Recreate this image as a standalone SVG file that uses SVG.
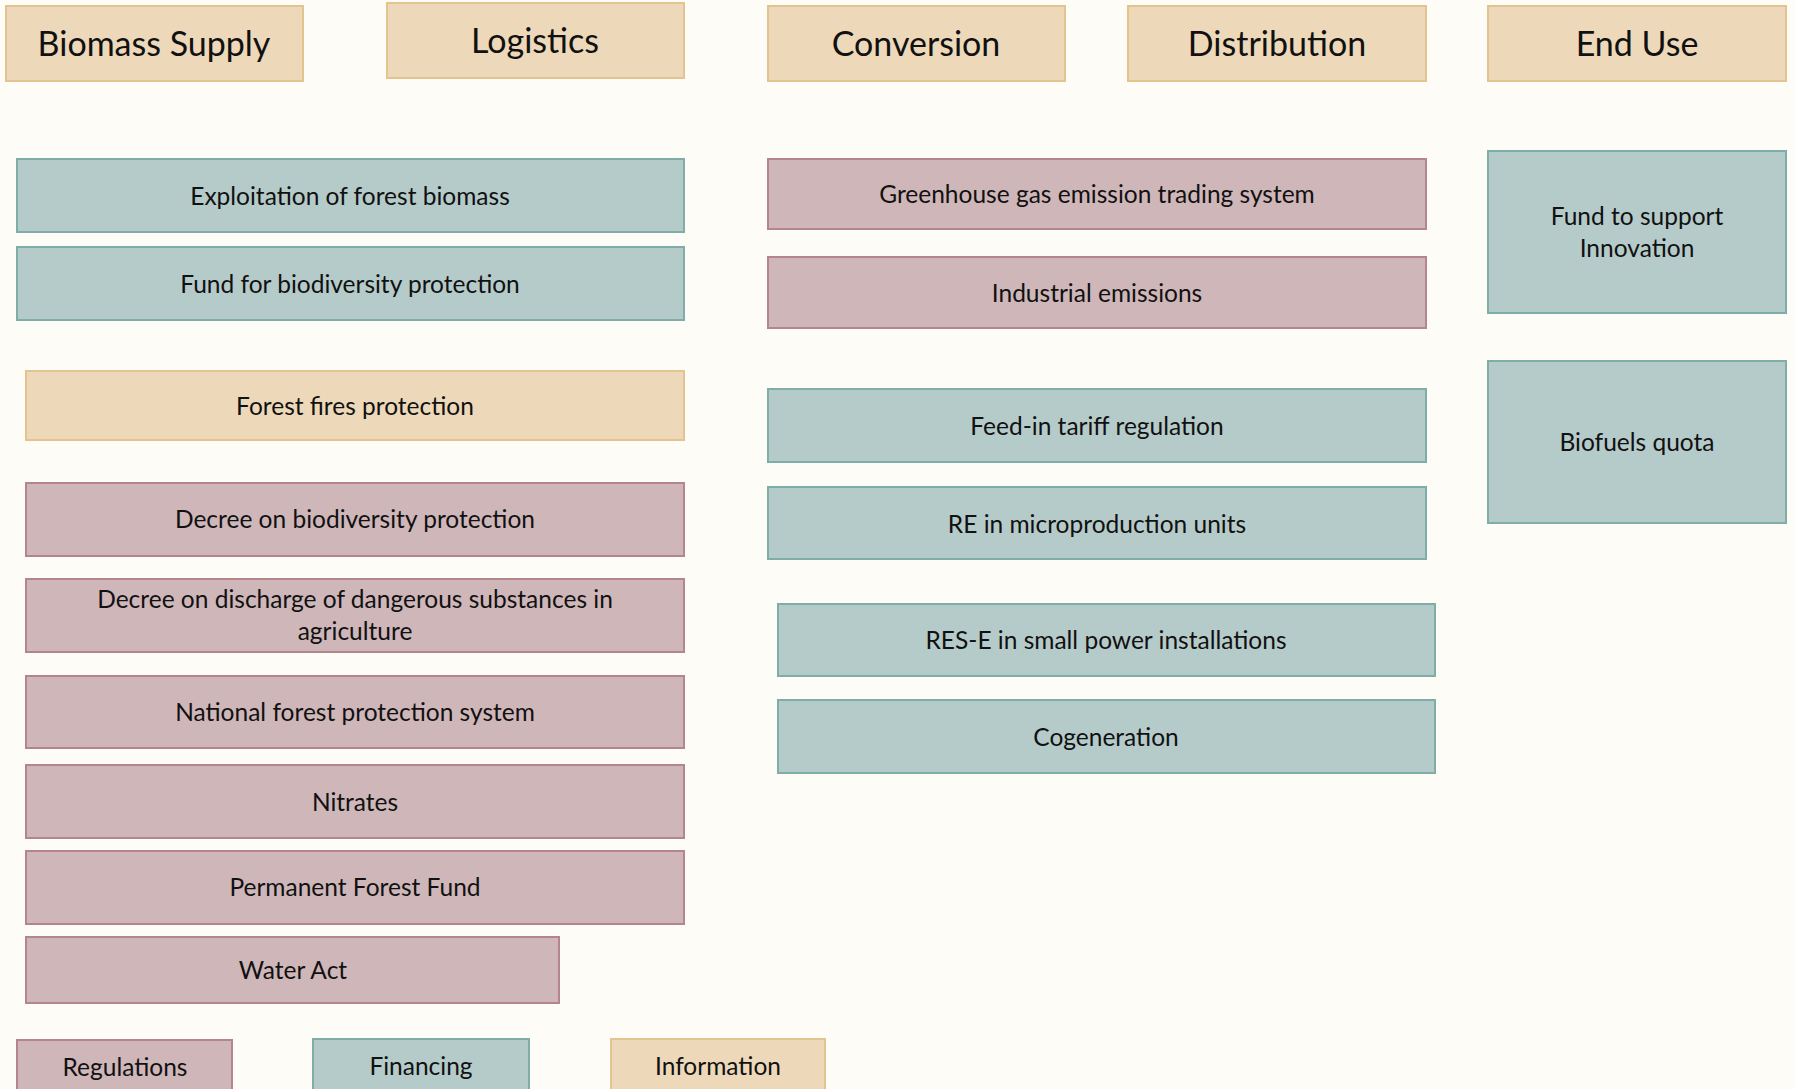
<svg xmlns="http://www.w3.org/2000/svg" width="1794" height="1089" viewBox="0 0 1794 1089">
<style>
text{font-family:Lato,"Liberation Sans",sans-serif;fill:#111;text-anchor:middle}
.h{font-size:34px}
.t{font-size:24.5px}
.tan{fill:#EDD9B9;stroke:#E3C48E;stroke-width:2}
.teal{fill:#B5CBC9;stroke:#7FAEA9;stroke-width:2}
.mauve{fill:#CFB6B9;stroke:#B4868C;stroke-width:2}
</style>
<rect width="1794" height="1089" fill="#FDFCF7"/>
<g id="h-biomass"><rect class="tan" x="6" y="6" width="297" height="75"/><text class="h" x="154" y="56">Biomass Supply</text></g>
<g id="h-logistics"><rect class="tan" x="387" y="3" width="297" height="75"/><text class="h" x="535" y="53">Logistics</text></g>
<g id="h-conversion"><rect class="tan" x="768" y="6" width="297" height="75"/><text class="h" x="916" y="56">Conversion</text></g>
<g id="h-distribution"><rect class="tan" x="1128" y="6" width="298" height="75"/><text class="h" x="1277" y="56">Distribution</text></g>
<g id="h-enduse"><rect class="tan" x="1488" y="6" width="298" height="75"/><text class="h" x="1637" y="56">End Use</text></g>

<g id="n-exploitation"><rect class="teal" x="17" y="159" width="667" height="73"/><text class="t" x="350" y="205">Exploitation of forest biomass</text></g>
<g id="n-fund-bio"><rect class="teal" x="17" y="247" width="667" height="73"/><text class="t" x="350" y="293">Fund for biodiversity protection</text></g>
<g id="n-fires"><rect class="tan" x="26" y="371" width="658" height="69"/><text class="t" x="355" y="415">Forest fires protection</text></g>
<g id="n-decree-bio"><rect class="mauve" x="26" y="483" width="658" height="73"/><text class="t" x="355" y="528">Decree on biodiversity protection</text></g>
<g id="n-decree-dis"><rect class="mauve" x="26" y="579" width="658" height="73"/><text class="t" x="355" y="608">Decree on discharge of dangerous substances in</text><text class="t" x="355" y="640">agriculture</text></g>
<g id="n-national"><rect class="mauve" x="26" y="676" width="658" height="72"/><text class="t" x="355" y="721">National forest protection system</text></g>
<g id="n-nitrates"><rect class="mauve" x="26" y="765" width="658" height="73"/><text class="t" x="355" y="811">Nitrates</text></g>
<g id="n-permanent"><rect class="mauve" x="26" y="851" width="658" height="73"/><text class="t" x="355" y="896">Permanent Forest Fund</text></g>
<g id="n-water"><rect class="mauve" x="26" y="937" width="533" height="66"/><text class="t" x="293" y="979">Water Act</text></g>

<g id="n-ghg"><rect class="mauve" x="768" y="159" width="658" height="70"/><text class="t" x="1097" y="203">Greenhouse gas emission trading system</text></g>
<g id="n-industrial"><rect class="mauve" x="768" y="257" width="658" height="71"/><text class="t" x="1097" y="302">Industrial emissions</text></g>
<g id="n-feedin"><rect class="teal" x="768" y="389" width="658" height="73"/><text class="t" x="1097" y="435">Feed-in tariff regulation</text></g>
<g id="n-remicro"><rect class="teal" x="768" y="487" width="658" height="72"/><text class="t" x="1097" y="533">RE in microproduction units</text></g>
<g id="n-rese"><rect class="teal" x="778" y="604" width="657" height="72"/><text class="t" x="1106" y="649">RES-E in small power installations</text></g>
<g id="n-cogen"><rect class="teal" x="778" y="700" width="657" height="73"/><text class="t" x="1106" y="746">Cogeneration</text></g>

<g id="n-fund-innov"><rect class="teal" x="1488" y="151" width="298" height="162"/><text class="t" x="1637" y="225">Fund to support</text><text class="t" x="1637" y="257">Innovation</text></g>
<g id="n-biofuels"><rect class="teal" x="1488" y="361" width="298" height="162"/><text class="t" x="1637" y="451">Biofuels quota</text></g>

<g id="legend-regulations"><rect class="mauve" x="17" y="1040" width="215" height="60"/><text class="t" x="125" y="1076">Regulations</text></g>
<g id="legend-financing"><rect class="teal" x="313" y="1039" width="216" height="61"/><text class="t" x="421" y="1075">Financing</text></g>
<g id="legend-information"><rect class="tan" x="611" y="1039" width="214" height="61"/><text class="t" x="718" y="1075">Information</text></g>
<g id="connectors"></g>
</svg>
